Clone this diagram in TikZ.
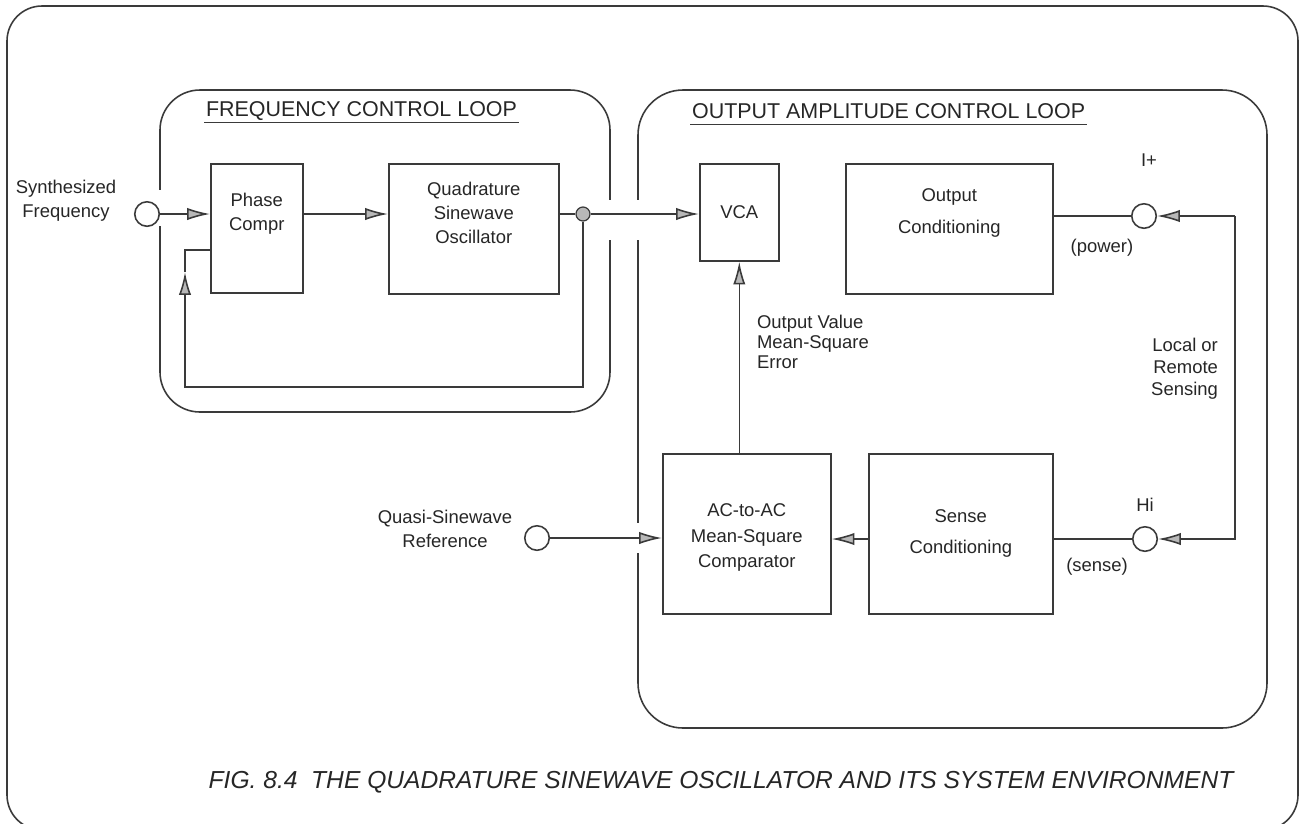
\documentclass[tikz,border=0pt]{standalone}
\usepackage{fontspec}
\setmainfont{Liberation Sans}
\usepackage{tikz}
\usetikzlibrary{positioning,calc,arrows.meta}
\definecolor{inkline}{HTML}{3A3A3A}
\definecolor{inktext}{HTML}{262626}
\definecolor{tipfill}{HTML}{B8B8B8}

\begin{document}
\begin{tikzpicture}[x=0.02cm,y=-0.02cm,
  blk/.style 2 args={rectangle, draw=inkline, line width=0.9pt, inner sep=0pt, anchor=north west,
    minimum width=#1*0.02cm, minimum height=#2*0.02cm},
  term/.style={circle, draw=inkline, line width=0.9pt, minimum size=0.49cm, inner sep=0pt},
  jdot/.style={circle, draw=inkline, fill=tipfill, line width=0.7pt, minimum size=0.28cm, inner sep=0pt},
  lbl/.style={font=\fontsize{10.5}{13.5}\selectfont, text=inktext, align=center, inner sep=1pt},
  looplbl/.style={font=\fontsize{12.2}{14}\selectfont, text=inktext, inner sep=1pt, anchor=west},
  frame/.style={draw=inkline, line width=0.9pt},
  wire/.style={draw=inkline, line width=0.9pt},
  arr/.style={wire, -{Latex[length=13pt,width=7pt,fill=tipfill]}}
]
\useasboundingbox (0,0) rectangle (1306,823);
% frames
\draw[frame,rounded corners=0.7cm] (7,6) rectangle (1298,830);
\draw[frame,rounded corners=0.8cm] (160,90) rectangle (610,412);
\draw[frame,rounded corners=0.9cm] (638,90) rectangle (1267,728);
\fill[white] (154,190) rectangle (166,226);
\fill[white] (604,200) rectangle (616,240);
\fill[white] (632,200) rectangle (644,240);
\fill[white] (632,523) rectangle (644,553);
\node[looplbl] (freqlbl) at (204,111) {FREQUENCY CONTROL LOOP};
\node[looplbl] (amplbl) at (690,111) {OUTPUT AMPLITUDE CONTROL LOOP};
\draw[wire] ([yshift=-3.5pt]freqlbl.base west) -- ([yshift=-3.5pt]freqlbl.base east);
\draw[wire] ([yshift=-3.5pt]amplbl.base west) -- ([yshift=-3.5pt]amplbl.base east);
% blocks
\node[blk={92}{129}, label={[lbl,yshift=0.29cm]center:Phase\\Compr}] (phase) at (210,163) {};
\node[blk={170}{130}, label={[lbl,yshift=0.32cm]center:Quadrature\\Sinewave\\Oscillator}] (osc) at (388,163) {};
\node[blk={79}{97}, label={[lbl]center:VCA}] (vca) at (699,163) {};
\node[blk={207}{130}, label={[lbl,yshift=0.32cm]center:Output\\[5pt]Conditioning}] (outc) at (845,163) {};
\node[blk={168}{160}, label={[lbl,yshift=-0.08cm]center:AC-to-AC\\[1pt]Mean-Square\\[1pt]Comparator}] (cmp) at (662,453) {};
\node[blk={184}{160}, label={[lbl]center:Sense\\[4pt]Conditioning}] (sensec) at (868,453) {};
% terminals
\node[lbl] (syntxt) at (66,201) {Synthesized\\Frequency};
\node[term] (syn) at (147,214) {};
\node[lbl] (quasitxt) at (445,529) {Quasi-Sinewave\\Reference};
\node[term] (quasi) at (537,538) {};
\node[term] (iplus) at (1144,216) {};
\node[lbl] (iplustxt) at (1149,160) {I+};
\node[lbl] (powertxt) at (1102,248) {(power)};
\node[term] (hi) at (1145,539) {};
\node[lbl] (hitxt) at (1145,505) {Hi};
\node[lbl] (sensetxt) at (1097,567) {(sense)};
\node[lbl, align=left, anchor=west, font=\fontsize{10.5}{11.5}\selectfont] (errtxt) at (755,342) {Output Value\\Mean-Square\\Error};
\node[lbl, align=right, anchor=east, font=\fontsize{10.5}{12.5}\selectfont] (senstxt) at (1220,369) {Local or\\Remote\\Sensing};
\node[jdot] (jn) at (583,214) {};
% connections
\draw[arr] (syn) -- (syn -| phase.west);
\draw[arr] (phase.east |- syn) -- (osc.west |- syn);
\draw[wire] (osc.east |- syn) -- (jn);
\draw[arr] (jn) -- (jn -| vca.west);
\coordinate (fbl) at (185,387);
\coordinate (fbm) at (185,272);
\coordinate (fbt) at (185,250);
\draw[arr] (jn) |- (fbl) -- (fbm);
\draw[wire] (fbm) |- (phase.west |- fbt);
\draw[arr] (vca.south |- cmp.north) -- (vca.south);
\draw[wire] (outc.east |- iplus) -- (iplus);
\coordinate (rtop) at (1235,216);
\draw[arr] (rtop) -- (iplus);
\draw[arr] (rtop) |- (hi);
\draw[wire] (hi) -- (hi -| sensec.east);
\draw[arr] (sensec.west |- hi) -- (cmp.east |- hi);
\draw[arr] (quasi) -- (quasi -| cmp.west);
% caption
\node[font=\fontsize{14}{16}\selectfont\itshape, text=inktext] (captxt) at (721,782)
  {FIG. 8.4\ \ THE QUADRATURE SINEWAVE OSCILLATOR AND ITS SYSTEM ENVIRONMENT};
\end{tikzpicture}
\end{document}
